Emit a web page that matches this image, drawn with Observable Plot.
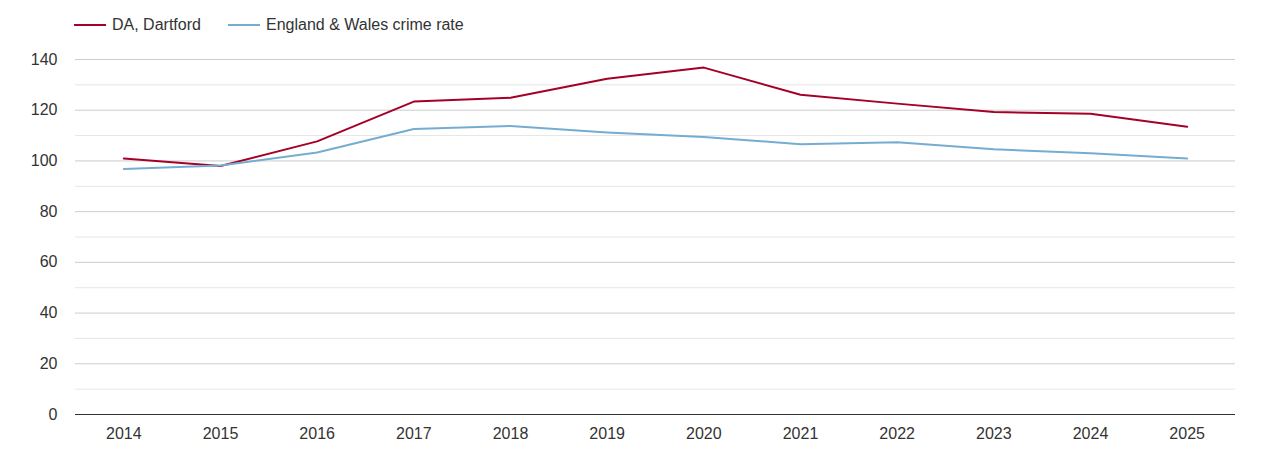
<!DOCTYPE html>
<html>
<head>
<meta charset="utf-8">
<script src="https://cdn.jsdelivr.net/npm/d3@7"></script>
<script src="https://cdn.jsdelivr.net/npm/@observablehq/plot@0.6"></script>
<style>
  body { margin: 0; background: #fff; font-family: "Liberation Sans", Arial, sans-serif; }
  #legend { position: relative; height: 45px; width: 1270px; font-size: 16px; color: #333; }
  .item { position: absolute; top: 15px; display: flex; align-items: center; height: 20px; }
  .swatch { width: 32px; height: 2px; margin-right: 6px; }
  svg { display: block; }
</style>
</head>
<body>
<div id="legend"></div>
<div id="chart"></div>
<script>
const years = ["2014","2015","2016","2017","2018","2019","2020","2021","2022","2023","2024","2025"];
const dartford = [101, 98, 107.7, 123.4, 124.9, 132.4, 136.8, 126.1, 122.6, 119.3, 118.6, 113.5];
const englandWales = [96.8, 98.2, 103.3, 112.6, 113.8, 111.2, 109.4, 106.6, 107.4, 104.6, 103.0, 101.0];
const seriesNames = ["DA, Dartford", "England & Wales crime rate"];
const seriesColors = ["#a50026", "#74add1"];
const majorTicks = [0, 20, 40, 60, 80, 100, 120, 140];
const minorTicks = [10, 30, 50, 70, 90, 110, 130];

const data = [];
years.forEach((y, i) => {
  data.push({year: y, value: dartford[i], series: seriesNames[0]});
  data.push({year: y, value: englandWales[i], series: seriesNames[1]});
});

const legend = document.getElementById("legend");
const lefts = [74, 228];
seriesNames.forEach((n, i) => {
  const d = document.createElement("div");
  d.className = "item";
  d.style.left = lefts[i] + "px";
  d.innerHTML = `<span class="swatch" style="background:${seriesColors[i]}"></span><span>${n}</span>`;
  legend.appendChild(d);
});

const chart = Plot.plot({
  width: 1270,
  height: 405,
  marginLeft: 75,
  marginRight: 35,
  marginTop: 14,
  marginBottom: 36,
  style: {fontFamily: "'Liberation Sans', Arial, sans-serif", fontSize: "16px", color: "#333"},
  x: {type: "point", domain: years, padding: 0.5, round: false, label: null, tickSize: 0, tickPadding: 13},
  y: {domain: [0, 140], ticks: majorTicks, label: null, tickSize: 0, tickPadding: 18},
  color: {domain: seriesNames, range: seriesColors},
  marks: [
    Plot.ruleY(minorTicks, {stroke: "#e6e6e6", strokeWidth: 1}),
    Plot.ruleY(majorTicks.filter(d => d > 0), {stroke: "#cccccc", strokeWidth: 1}),
    Plot.axisX({tickSize: 0, tickPadding: 13, fontSize: 16, fill: "#333"}),
    Plot.axisY({ticks: majorTicks, tickSize: 0, tickPadding: 18, fontSize: 16, fill: "#333"}),
    Plot.line(data, {x: "year", y: "value", z: "series", stroke: "series", strokeWidth: 2}),
    Plot.ruleY([0], {stroke: "#333", strokeWidth: 1})
  ]
});
document.getElementById("chart").appendChild(chart);
</script>
</body>
</html>
